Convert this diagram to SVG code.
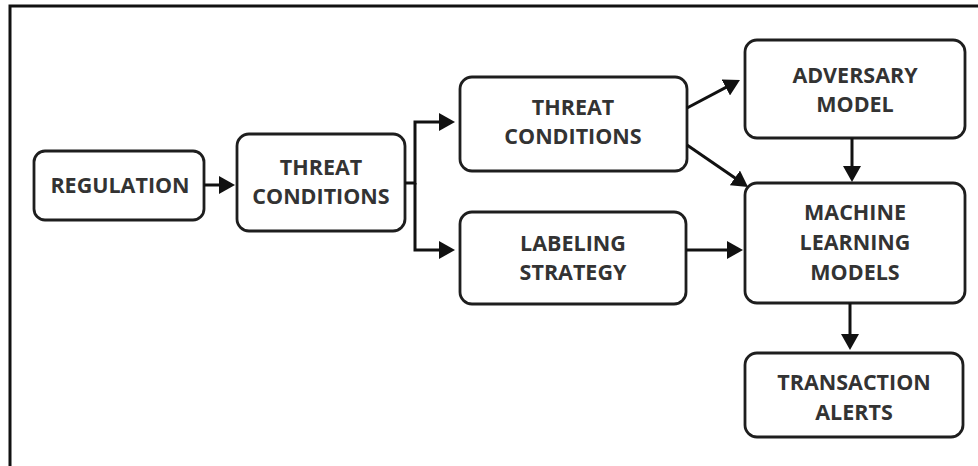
<svg xmlns="http://www.w3.org/2000/svg" width="978" height="466" viewBox="0 0 978 466">
  <style>
    .box { fill: #ffffff; stroke: #1e1e1e; stroke-width: 2.8; }
    .lbl { font-family: "Open Sans", "Liberation Sans", sans-serif; font-weight: 700; font-size: 21.5px; fill: #333333; text-anchor: middle; }
    .edge { fill: none; stroke: #111111; stroke-width: 3; stroke-linejoin: miter; }
  </style>
  <defs>
    <marker id="arrow" markerUnits="userSpaceOnUse" markerWidth="16" markerHeight="18" refX="6" refY="9" orient="auto">
      <path d="M0,0 L16,9 L0,18 z" fill="#111111"/>
    </marker>
  </defs>

  <rect width="978" height="466" fill="#ffffff"/>
  <!-- frame: top and left rules -->
  <path d="M10,466 V6 H978" fill="none" stroke="#111111" stroke-width="3"/>

  <g id="regulation">
    <rect class="box" x="34" y="151" width="170" height="69" rx="11"/>
    <text class="lbl" x="120" y="193">REGULATION</text>
  </g>

  <g id="threat-conditions-1">
    <rect class="box" x="237" y="134" width="168" height="97" rx="12"/>
    <text class="lbl" x="321" y="175">THREAT</text>
    <text class="lbl" x="321" y="204">CONDITIONS</text>
  </g>

  <g id="threat-conditions-2">
    <rect class="box" x="460" y="77" width="227" height="94" rx="12"/>
    <text class="lbl" x="573" y="115">THREAT</text>
    <text class="lbl" x="573" y="144">CONDITIONS</text>
  </g>

  <g id="labeling-strategy">
    <rect class="box" x="460" y="212" width="226" height="92" rx="12"/>
    <text class="lbl" x="573" y="251">LABELING</text>
    <text class="lbl" x="573" y="280">STRATEGY</text>
  </g>

  <g id="adversary-model">
    <rect class="box" x="745" y="40" width="220" height="98" rx="12"/>
    <text class="lbl" x="855" y="83">ADVERSARY</text>
    <text class="lbl" x="855" y="112">MODEL</text>
  </g>

  <g id="machine-learning-models">
    <rect class="box" x="745" y="183" width="220" height="120" rx="12"/>
    <text class="lbl" x="855" y="220">MACHINE</text>
    <text class="lbl" x="855" y="250">LEARNING</text>
    <text class="lbl" x="855" y="280">MODELS</text>
  </g>

  <g id="transaction-alerts">
    <rect class="box" x="745" y="353" width="218" height="84" rx="12"/>
    <text class="lbl" x="854" y="390">TRANSACTION</text>
    <text class="lbl" x="854" y="420">ALERTS</text>
  </g>

  <g id="connectors">
    <path class="edge" d="M204,185 H225" marker-end="url(#arrow)"/>
    <path class="edge" d="M405,183 H415 V122 H445" marker-end="url(#arrow)"/>
    <path class="edge" d="M415,183 V250 H445" marker-end="url(#arrow)"/>
    <path class="edge" d="M687,108 L731.1,84.7" marker-end="url(#arrow)"/>
    <path class="edge" d="M687,145 L739.8,181.3" marker-end="url(#arrow)"/>
    <path class="edge" d="M686,250 H733" marker-end="url(#arrow)"/>
    <path class="edge" d="M852,138 V172" marker-end="url(#arrow)"/>
    <path class="edge" d="M850,303 V340" marker-end="url(#arrow)"/>
  </g>
</svg>
